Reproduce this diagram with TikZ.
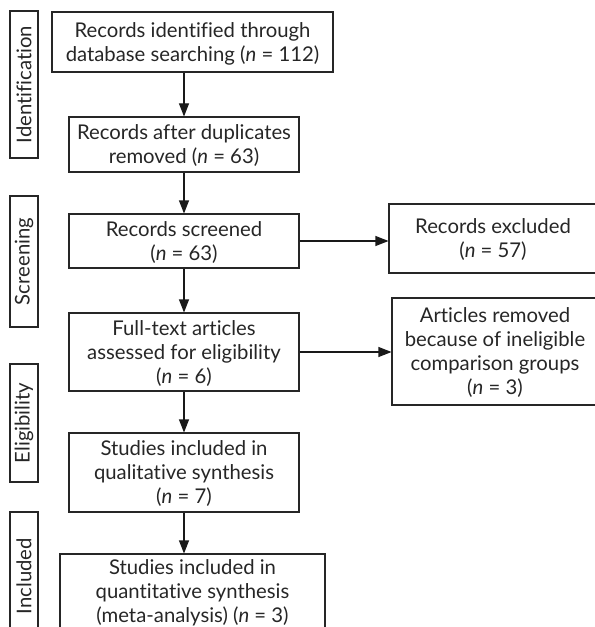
\documentclass[tikz,border=0pt]{standalone}
\usepackage{fontspec}
\setmainfont{Lato}[Ligatures=NoCommon]
\usetikzlibrary{arrows.meta,positioning,calc}

\begin{document}
\begin{tikzpicture}[x=1bp,y=-1bp,
    box/.style={draw=black!85, line width=1.1bp, inner sep=0pt, align=center,
      text=black!85, text depth=0bp, font=\fontsize{20.3bp}{24bp}\selectfont},
    phase/.style={draw=black!85, line width=1.1bp, inner sep=0pt, rotate=90,
      minimum height=28bp, text=black!85, font=\fontsize{20.3bp}{24bp}\selectfont},
    flow/.style={draw=black!90, line width=1.1bp, -{Triangle[length=13bp,width=10bp]}}]
        \clip (0,0) rectangle (595,627);
        \node [phase, minimum width=147bp] (ident) at (24,84.5) {Identification};
        \node [phase, minimum width=131bp] (screening) at (24,261.5) {Screening};
        \node [phase, minimum width=118bp] (elig) at (24,423) {Eligibility};
        \node [phase, minimum width=128bp] (incl) at (24,576) {Included};
        \node [box, minimum width=281bp, minimum height=60bp] (found) at (192.5,42) {Records identified through\\database searching (\emph{n} = 112)};
        \node [box, minimum width=230bp, minimum height=55bp] (nodup) at (184,144.5) {Records after duplicates\\removed (\emph{n} = 63)};
        \node [box, minimum width=230bp, minimum height=54bp] (screen) at (184,241) {Records screened\\(\emph{n} = 63)};
        \node [box, minimum width=208bp, minimum height=69bp] (excl) at (493,238.5) {Records excluded\\(\emph{n} = 57)};
        \node [box, minimum width=230bp, minimum height=78bp] (full) at (184,352) {Full-text articles\\assessed for eligibility\\(\emph{n} = 6)};
        \node [box, minimum width=206bp, minimum height=107bp] (removed) at (495,351.5) {Articles removed\\because of ineligible\\comparison groups\\(\emph{n} = 3)};
        \node [box, minimum width=230bp, minimum height=79bp] (qual) at (184,472.5) {Studies included in\\qualitative synthesis\\(\emph{n} = 7)};
        \node [box, minimum width=265bp, minimum height=74bp] (quant) at (192.5,591) {Studies included in\\quantitative synthesis\\(meta-analysis) (\emph{n} = 3)};
        \draw [flow] (found.south -| nodup.north) -- (nodup.north);
        \draw [flow] (nodup.south) -- (nodup.south |- screen.north);
        \draw [flow] (screen.south) -- (screen.south |- full.north);
        \draw [flow] (full.south) -- (full.south |- qual.north);
        \draw [flow] (qual.south) -- (qual.south |- quant.north);
        \draw [flow] (screen.east) -- (excl.west |- screen.east);
        \draw [flow] (full.east) -- (removed.west |- full.east);
      \end{tikzpicture}
\end{document}
